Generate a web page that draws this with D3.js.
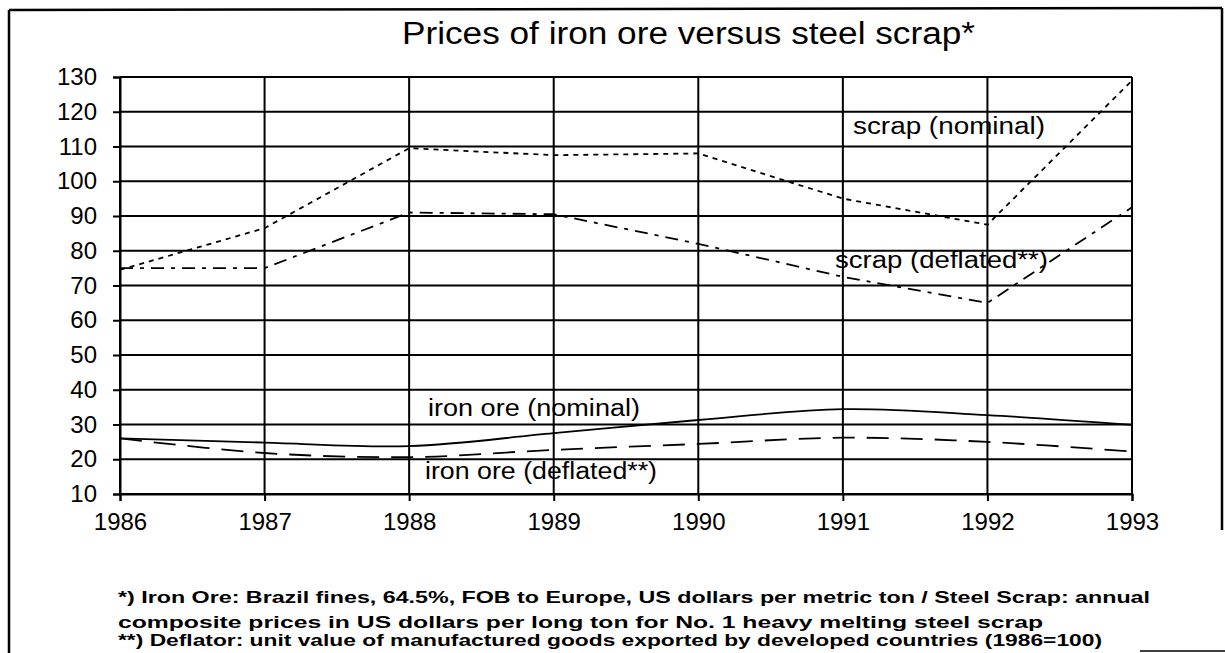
<!DOCTYPE html>
<html>
<head>
<meta charset="utf-8">
<script src="https://cdn.jsdelivr.net/npm/d3@7"></script>
<style>
  html, body { margin: 0; padding: 0; background: #fff; }
  svg { display: block; }
  text { font-family: "Liberation Sans", Arial, sans-serif; fill: #000; }
</style>
</head>
<body>
<svg id="chart" width="1225" height="653"></svg>
<script>
// ---- data ----
const years = [1986, 1987, 1988, 1989, 1990, 1991, 1992, 1993];
const scrapNominal  = [74.5, 86.5, 109.5, 107.5, 108, 95, 87.5, 129];
const scrapDeflated = [75, 75, 91, 90.5, 82, 72.5, 65, 92.5];
const ironNominal   = [26, 24.8, 23.8, 27.5, 31.3, 34.4, 32.7, 29.9];
const ironDeflated  = [26, 21.8, 20.6, 22.7, 24.4, 26.2, 25, 22.2];
const yTicks = [10, 20, 30, 40, 50, 60, 70, 80, 90, 100, 110, 120, 130];
const title = "Prices of iron ore versus steel scrap*";
const seriesLabels = ["scrap (nominal)", "scrap (deflated**)", "iron ore (nominal)", "iron ore (deflated**)"];
const footnotes = [
  "*)  Iron Ore: Brazil fines, 64.5%, FOB to Europe, US dollars per metric ton / Steel Scrap: annual",
  "composite prices in US dollars per long ton for No. 1 heavy melting steel scrap",
  "**)  Deflator:  unit value of manufactured goods exported by developed countries (1986=100)"
];

// ---- layout ----
const svg = d3.select("#chart");
const L = 120, R = 1132, T = 77, B = 494;

const x = d3.scaleLinear().domain([1986, 1993]).range([L, R]);
const y = d3.scaleLinear().domain([10, 130]).range([B, T]);

// outer frame
const frame = svg.append("g").attr("stroke", "#000").attr("stroke-width", 2.5).attr("fill", "none");
frame.append("line").attr("x1", 9).attr("y1", 10).attr("x2", 9).attr("y2", 653);
frame.append("line").attr("x1", 9).attr("y1", 10).attr("x2", 1222).attr("y2", 8);
frame.append("line").attr("x1", 1222).attr("y1", 8).attr("x2", 1222).attr("y2", 530);
frame.append("line").attr("x1", 1140).attr("y1", 651).attr("x2", 1225).attr("y2", 651).attr("stroke-width", 1.5);

// title
svg.append("text")
  .attr("x", 402).attr("y", 44)
  .attr("font-size", 31)
  .attr("textLength", 573).attr("lengthAdjust", "spacingAndGlyphs")
  .text(title);

// grid
const grid = svg.append("g").attr("stroke", "#000").attr("stroke-width", 2);
grid.selectAll("line.h").data(yTicks).enter().append("line")
  .attr("x1", L).attr("x2", R).attr("y1", d => y(d)).attr("y2", d => y(d));
grid.selectAll("line.v").data(years).enter().append("line")
  .attr("x1", d => x(d)).attr("x2", d => x(d)).attr("y1", T).attr("y2", B);

// axes
const yAxis = d3.axisLeft(y).tickValues(yTicks).tickSize(7).tickPadding(16).tickFormat(d3.format("d"));
const gy = svg.append("g").attr("transform", `translate(${L},0)`).call(yAxis);
gy.select(".domain").attr("stroke", "#000").attr("stroke-width", 2);
gy.selectAll(".tick line").attr("stroke", "#000").attr("stroke-width", 2);
gy.selectAll(".tick text").attr("font-size", 24).attr("font-family", "Liberation Sans, Arial, sans-serif").attr("fill", "#000");

const xAxis = d3.axisBottom(x).tickValues(years).tickSize(7).tickPadding(12).tickFormat(d3.format("d"));
const gx = svg.append("g").attr("transform", `translate(0,${B})`).call(xAxis);
gx.select(".domain").attr("stroke", "#000").attr("stroke-width", 2);
gx.selectAll(".tick line").attr("stroke", "#000").attr("stroke-width", 2);
gx.selectAll(".tick text").attr("font-size", 24).attr("font-family", "Liberation Sans, Arial, sans-serif").attr("fill", "#000");

// series
const series = [
  { values: scrapNominal,  dash: "5,5",          curve: d3.curveLinear },
  { values: scrapDeflated, dash: "13,7,4,7",     curve: d3.curveLinear },
  { values: ironNominal,   dash: null,           curve: d3.curveCatmullRom.alpha(0.5) },
  { values: ironDeflated,  dash: "22,12",        curve: d3.curveCatmullRom.alpha(0.5) }
];
series.forEach(s => {
  const line = d3.line().x((d, i) => x(years[i])).y(d => y(d)).curve(s.curve);
  svg.append("path")
    .datum(s.values)
    .attr("d", line)
    .attr("fill", "none")
    .attr("stroke", "#000")
    .attr("stroke-width", 1.8)
    .attr("stroke-dasharray", s.dash);
});

// series labels
const labelPos = [
  { x: 853, y: 134, w: 192 },
  { x: 835, y: 268, w: 213 },
  { x: 428, y: 416, w: 212 },
  { x: 425, y: 479, w: 232 }
];
svg.selectAll("text.lbl").data(seriesLabels).enter().append("text")
  .attr("class", "lbl")
  .attr("x", (d, i) => labelPos[i].x).attr("y", (d, i) => labelPos[i].y)
  .attr("font-size", 23)
  .attr("textLength", (d, i) => labelPos[i].w).attr("lengthAdjust", "spacingAndGlyphs")
  .text(d => d);

// footnotes
const fnPos = [
  { x: 118, y: 603, w: 1032 },
  { x: 118, y: 628, w: 925 },
  { x: 118, y: 646, w: 984 }
];
svg.selectAll("text.fn").data(footnotes).enter().append("text")
  .attr("class", "fn")
  .attr("x", (d, i) => fnPos[i].x).attr("y", (d, i) => fnPos[i].y)
  .attr("font-size", 17).attr("font-weight", "bold")
  .attr("textLength", (d, i) => fnPos[i].w).attr("lengthAdjust", "spacingAndGlyphs")
  .text(d => d);
</script>
</body>
</html>
